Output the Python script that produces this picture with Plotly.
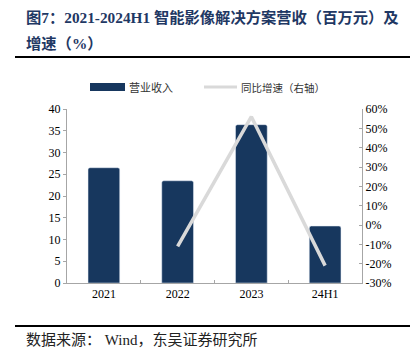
import plotly.graph_objects as go

categories = ["2021", "2022", "2023", "24H1"]
revenue = [26.5, 23.5, 36.4, 13.1]
growth_cats = ["2022", "2023", "24H1"]
growth = [-11.0, 56.0, -21.0]
left_ticks = [0, 5, 10, 15, 20, 25, 30, 35, 40]
right_ticks = [-30, -20, -10, 0, 10, 20, 30, 40, 50, 60]
right_labels = [f"{v}%" for v in right_ticks]

W, H = 420, 360
L, R, T, B = 67, 58, 109, 77
PH = H - T - B
PW = W - L - R

def py(pix):
    return (H - B - pix) / PH

def px(pix):
    return (pix - L) / PW

BAR = "#17375e"
LINE = "#d9d9d9"
AX = "#a6a6a6"
serif = "Liberation Serif, Times New Roman, Noto Sans CJK SC"
cjk = "Noto Sans CJK SC"

fig = go.Figure()
fig.add_trace(go.Bar(x=categories, y=revenue, marker_color=BAR, width=0.43,
                     name="营业收入", showlegend=False, yaxis="y"))
fig.add_trace(go.Scatter(x=growth_cats, y=growth, mode="lines",
                         line=dict(color=LINE, width=3.5), name="同比增速（右轴）",
                         showlegend=False, yaxis="y2"))

fig.update_layout(
    width=W, height=H, margin=dict(l=L, r=R, t=T, b=B),
    paper_bgcolor="white", plot_bgcolor="white",
    barcornerradius=2,
    xaxis=dict(type="category", categoryorder="array", categoryarray=categories,
               showline=True, linecolor=AX, linewidth=1, showgrid=False,
               ticks="inside", ticklen=3, tickcolor=AX, tickson="boundaries",
               tickfont=dict(family=serif, size=12, color="#000")),
    yaxis=dict(range=[0, 40], tickvals=left_ticks, showgrid=False, zeroline=False,
               showline=True, linecolor=AX, ticks="outside", ticklen=3, tickcolor=AX,
               tickfont=dict(family=serif, size=12, color="#000")),
    yaxis2=dict(range=[-30, 60], tickvals=right_ticks, ticktext=right_labels,
                overlaying="y", side="right", showgrid=False, zeroline=False,
                showline=True, linecolor=AX, ticks="inside", ticklen=3, tickcolor=AX,
                tickfont=dict(family=serif, size=12, color="#000")),
)

shapes = [
    dict(type="line", xref="paper", yref="paper", x0=px(15), x1=px(410), y0=py(57), y1=py(57),
         line=dict(color="#000", width=2)),
    dict(type="line", xref="paper", yref="paper", x0=px(15), x1=px(410), y0=py(326), y1=py(326),
         line=dict(color="#000", width=2)),
    dict(type="rect", xref="paper", yref="paper", x0=px(90), x1=px(125), y0=py(91), y1=py(83),
         fillcolor=BAR, line=dict(width=0)),
    dict(type="line", xref="paper", yref="paper", x0=px(204), x1=px(237), y0=py(87), y1=py(87),
         line=dict(color=LINE, width=3)),
]
fig.update_layout(shapes=shapes)

ann = [
    dict(text="<b>图7：2021-2024H1 智能影像解决方案营收（百万元）及</b>", x=px(24), y=py(17),
         font=dict(family=serif, size=15.3, color="#1f3864")),
    dict(text="<b>增速（%）</b>", x=px(24), y=py(44),
         font=dict(family=serif, size=15.3, color="#1f3864")),
    dict(text="数据来源： Wind，东吴证券研究所", x=px(24), y=py(340),
         font=dict(family=serif, size=15, color="#222")),
    dict(text="营业收入", x=px(127), y=py(87), font=dict(family=cjk, size=11, color="#333")),
    dict(text="同比增速（右轴）", x=px(239), y=py(87), font=dict(family=cjk, size=10.5, color="#333")),
]
for a in ann:
    a.update(xref="paper", yref="paper", xanchor="left", yanchor="middle", showarrow=False)
fig.update_layout(annotations=ann)

fig.write_html("out.html", config={"displayModeBar": False},
               post_script="document.body.style.margin='0';document.body.style.overflow='hidden';")
